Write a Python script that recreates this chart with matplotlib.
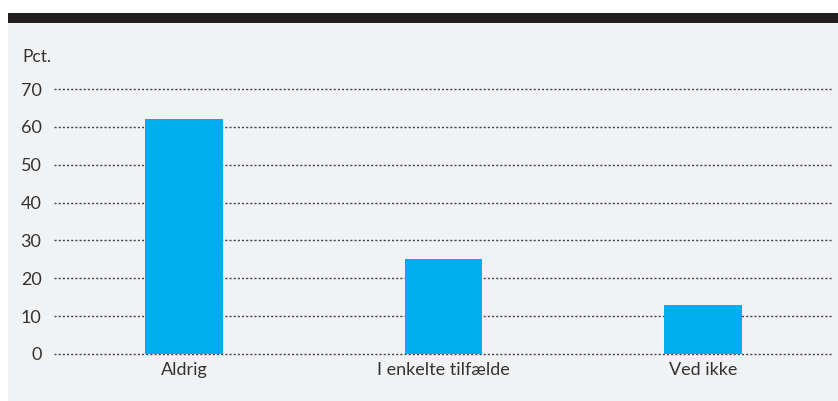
import matplotlib.pyplot as plt
from matplotlib.patches import Rectangle

# data
categories = ["Aldrig", "I enkelte tilfælde", "Ved ikke"]
values = [62, 25, 13]
yticks = [0, 10, 20, 30, 40, 50, 60, 70]

plt.rcParams['font.family'] = ['Lato', 'DejaVu Sans']

W, H = 838, 401
fig = plt.figure(figsize=(W / 100, H / 100), dpi=100)
fig.patch.set_facecolor('white')

# grå baggrund og sort topbjælke
fig.patches.append(Rectangle((8 / W, 0), 1 - 8 / W, 1 - 13 / H, transform=fig.transFigure,
                             facecolor='#f1f2f4', edgecolor='none', zorder=-10))
fig.patches.append(Rectangle((8 / W, 1 - 23 / H), 1 - 8 / W, 10 / H, transform=fig.transFigure,
                             facecolor='#231f20', edgecolor='none', zorder=-9))

ax = fig.add_axes([54 / W, 1 - 354 / H, (833 - 54) / W, (354 - 89) / H])
ax.set_facecolor('none')

x = range(len(categories))
ax.bar(x, values, width=0.3, color='#00adef', zorder=2)

ax.set_xlim(-0.5, 2.5)
ax.set_ylim(0, 70)
ax.set_yticks(yticks)
ax.set_xticks(list(x))
ax.set_xticklabels(categories)

for y in yticks:
    ax.axhline(y, color='#444444', linestyle=(0, (1.5, 1.5)), linewidth=1.0, zorder=1, clip_on=False)

for s in ax.spines.values():
    s.set_visible(False)
ax.tick_params(axis='both', length=0, labelsize=13, colors='#333333')
ax.tick_params(axis='y', pad=9)
ax.tick_params(axis='x', pad=6)

fig.text(22 / W, 1 - 57 / H, "Pct.", fontsize=12.5, color='#333333', va='center', ha='left')

plt.savefig("out.png", dpi=100)
